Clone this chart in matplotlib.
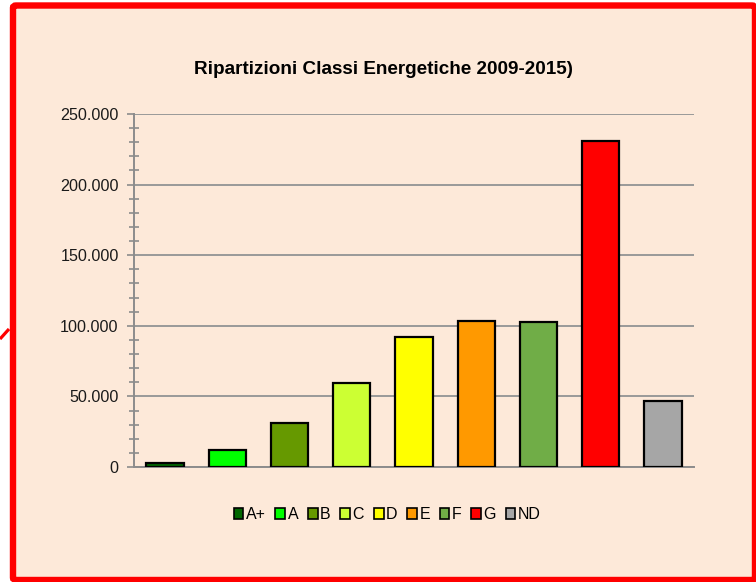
import matplotlib
matplotlib.use("Agg")
import matplotlib.pyplot as plt
from matplotlib.patches import FancyBboxPatch, Patch
from matplotlib.lines import Line2D
from matplotlib.ticker import FuncFormatter, MultipleLocator

plt.rcParams['font.family'] = ['Liberation Sans', 'DejaVu Sans']

# Classi energetiche e numero di attestati
classi = ['A+', 'A', 'B', 'C', 'D', 'E', 'F', 'G', 'ND']
attestati = [2600, 11800, 30900, 59200, 92200, 103100, 102800, 231100, 46700]
colori = ['#006600', '#00FF00', '#669900', '#CCFF33', '#FFFF00',
          '#FF9900', '#70AD47', '#FF0000', '#A6A6A6']

W, H = 756, 582
fig = plt.figure(figsize=(W / 100, H / 100), dpi=100, facecolor='white')

# cornice rossa con sfondo pesca
sfondo = '#FDE9D9'
cornice = FancyBboxPatch((13 / W, 2 / H), 742 / W, 574.5 / H,
                         boxstyle='round,pad=0,rounding_size=0.004',
                         transform=fig.transFigure, facecolor=sfondo,
                         edgecolor='#FF0000', linewidth=4.6, zorder=-1)
fig.patches.append(cornice)
fig.lines.append(Line2D([0, 9 / W], [1 - 339 / H, 1 - 329 / H],
                        transform=fig.transFigure, color='#FF0000',
                        linewidth=2.3, solid_capstyle='butt'))

ax = fig.add_axes([134 / W, 1 - 467 / H, 560 / W, 353 / H])
ax.set_facecolor('none')

x = range(len(classi))
barre = ax.bar(x, attestati, width=0.6, color=colori, edgecolor='black',
               linewidth=1.6, zorder=3)

ax.set_xlim(-0.5, len(classi) - 0.5)
ax.set_ylim(0, 250000)
ax.yaxis.set_major_locator(MultipleLocator(50000))
ax.yaxis.set_minor_locator(MultipleLocator(10000))
ax.yaxis.set_major_formatter(FuncFormatter(lambda v, p: f"{int(v):,}".replace(',', '.')))
ax.set_xticks([])

ax.grid(axis='y', which='major', color='#999999', linewidth=1.4, zorder=1)
for lato in ['top', 'right']:
    ax.spines[lato].set_visible(False)
for lato in ['left', 'bottom']:
    ax.spines[lato].set_color('#8C8C8C')
    ax.spines[lato].set_linewidth(1.4)

ax.tick_params(axis='y', which='major', length=5, width=1.2, color='#8C8C8C',
               labelsize=11.6, labelcolor='#1A1A1A', pad=6)
ax.tick_params(axis='y', which='minor', length=7, width=1.2, color='#8C8C8C',
               direction='inout')

fig.text(383 / W, 1 - 70 / H, 'Ripartizioni Classi Energetiche 2009-2015)',
         fontsize=13.6, fontweight='bold', ha='center', va='center')

maniglie = [Patch(facecolor=c, edgecolor='black', linewidth=1.2) for c in colori]
ax.legend(maniglie, classi, ncol=len(classi), frameon=False, fontsize=11.5,
          loc='center', bbox_to_anchor=(0.452, -0.135),
          handlelength=0.62, handleheight=0.62, handletextpad=0.15,
          columnspacing=0.6, borderaxespad=0)

fig.savefig('out.png', dpi=100, facecolor='white')
